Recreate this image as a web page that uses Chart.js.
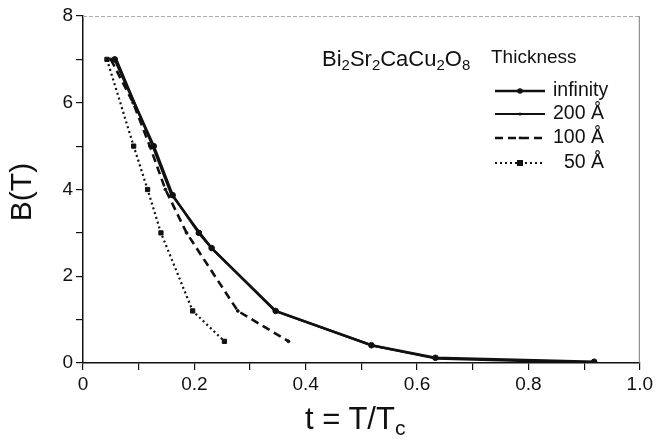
<!DOCTYPE html>
<html>
<head>
<meta charset="utf-8">
<script src="https://cdn.jsdelivr.net/npm/chart.js@4/dist/chart.umd.min.js"></script>
<style>
  html, body { margin: 0; padding: 0; background: #fff; }
  #wrap { position: relative; width: 656px; height: 440px; font-family: 'Liberation Sans', Arial, sans-serif; color: #111; }
  #chart { position: absolute; left: 0; top: 0; }
  .lbl { position: absolute; white-space: nowrap; line-height: 1; }
  .lbl sub { font-size: 0.68em; vertical-align: -0.3em; line-height: 0; }
  .row { position: absolute; left: 494px; height: 20px; }
  .row svg { position: absolute; left: 0; top: 5px; }
  .row span { position: absolute; top: -2px; font-size: 19.5px; line-height: 20px; white-space: nowrap; }
</style>
</head>
<body>
<div id="wrap">
  <canvas id="chart" width="656" height="440"></canvas>
  <div class="lbl" id="formula" style="left:322px; top:48px; font-size:22px;">Bi<sub>2</sub>Sr<sub>2</sub>CaCu<sub>2</sub>O<sub>8</sub></div>
  <div class="lbl" id="ytitle" style="left:-9px; top:177px; font-size:30px; width:60px; text-align:center; transform: rotate(-90deg);">B(T)</div>
  <div class="lbl" id="xtitle" style="left:305px; top:403px; font-size:31px;">t = T/T<sub>c</sub></div>
  <div class="lbl" style="left:491px; top:47px; font-size:19px;">Thickness</div>
  <div id="legend"></div>
</div>
<script>
// B(T) versus reduced temperature t = T/Tc, per film thickness
const infT = [0.057, 0.127, 0.161, 0.208, 0.231, 0.346, 0.518, 0.633, 0.918];
const infB = [7.0, 5.0, 3.87, 3.0, 2.65, 1.2, 0.41, 0.12, 0.03];
const t200T = [0.06, 0.125, 0.158, 0.21, 0.233, 0.345, 0.52, 0.635, 0.8, 0.92];
const t200B = [7.0, 5.0, 3.9, 3.0, 2.62, 1.2, 0.4, 0.1, 0.04, 0.01];
const t100T = [0.05, 0.09, 0.12, 0.148, 0.186, 0.278, 0.369];
const t100B = [7.0, 6.0, 5.0, 4.0, 3.0, 1.2, 0.5];
const t50T = [0.043, 0.091, 0.116, 0.14, 0.197, 0.254];
const t50B = [7.0, 5.0, 4.0, 3.0, 1.2, 0.5];

const seriesNames = ['infinity', '200 Å', '100 Å', '50 Å'];
const xTicks = [0, 0.2, 0.4, 0.6, 0.8, 1.0];
const yTicks = [0, 2, 4, 6, 8];

const ink = '#111';

function pts(xs, ys) {
  return xs.map((x, i) => ({ x: x, y: ys[i] }));
}

// line styles for each series (used by chart and legend)
const styles = [
  { dash: [], width: 2.6, point: 'circle', radius: 2.8 },
  { dash: [], width: 2.2, point: 'crossRot', radius: 1.8 },
  { dash: [8, 5], width: 2.6, point: 'circle', radius: 1.4 },
  { dash: [2, 3], width: 2.2, point: 'rect', radius: 3 }
];

const seriesData = [pts(infT, infB), pts(t200T, t200B), pts(t100T, t100B), pts(t50T, t50B)];

const datasets = seriesData.map((d, i) => ({
  label: seriesNames[i],
  data: d,
  borderColor: ink,
  backgroundColor: ink,
  borderWidth: styles[i].width,
  borderDash: styles[i].dash,
  pointStyle: styles[i].point,
  pointRadius: styles[i].radius,
  pointBorderWidth: 1,
  tension: 0,
  fill: false
}));

// faint frame on top and right like the original plot
const framePlugin = {
  id: 'frame',
  afterDraw(chart) {
    const { ctx, chartArea: a } = chart;
    ctx.save();
    ctx.lineWidth = 1;
    ctx.strokeStyle = '#aaa';
    ctx.setLineDash([4, 2]);
    ctx.beginPath();
    ctx.moveTo(a.left, a.top + 0.5);
    ctx.lineTo(a.right, a.top + 0.5);
    ctx.stroke();
    ctx.setLineDash([]);
    ctx.strokeStyle = '#777';
    ctx.beginPath();
    ctx.moveTo(a.right - 0.5, a.top);
    ctx.lineTo(a.right - 0.5, a.bottom);
    ctx.stroke();
    ctx.restore();
  }
};

new Chart(document.getElementById('chart'), {
  type: 'line',
  data: { datasets },
  plugins: [framePlugin],
  options: {
    responsive: false,
    animation: false,
    layout: { padding: { left: 0, right: 15, top: 16, bottom: 0 } },
    plugins: { legend: { display: false }, tooltip: { enabled: false } },
    scales: {
      x: {
        type: 'linear',
        min: 0,
        max: 1,
        afterFit: s => { s.height = 77; },
        afterBuildTicks: s => {
          s.ticks = [];
          for (let i = 0; i <= 10; i++) s.ticks.push({ value: i / 10 });
        },
        ticks: {
          color: ink,
          font: { family: "'Liberation Sans', Arial", size: 19 },
          padding: 3,
          maxRotation: 0,
          autoSkip: false,
          callback: v => {
            const m = xTicks.find(t => Math.abs(t - v) < 1e-6);
            if (m === undefined) return '';
            return m === 0 ? '0' : m.toFixed(1);
          }
        },
        grid: { drawOnChartArea: false, drawTicks: true, tickLength: 7, color: ink, lineWidth: 1.2 },
        border: { color: ink, width: 1.5 }
      },
      y: {
        min: 0,
        max: 8,
        afterFit: s => { s.width = 83; },
        ticks: {
          stepSize: 1,
          color: ink,
          font: { family: "'Liberation Sans', Arial", size: 19 },
          padding: 3,
          autoSkip: false,
          callback: v => yTicks.includes(v) ? String(v) : ''
        },
        grid: { drawOnChartArea: false, drawTicks: true, tickLength: 7, color: ink, lineWidth: 1.2 },
        border: { color: ink, width: 1.5 }
      }
    }
  }
});

// --- Legend (html rows with svg line samples) ---
const legendRows = [
  { top: 81, textLeft: 59 },
  { top: 104, textLeft: 59 },
  { top: 128, textLeft: 59 },
  { top: 153, textLeft: 70 }
];
const legendEl = document.getElementById('legend');
seriesNames.forEach((name, i) => {
  const st = styles[i];
  const row = document.createElement('div');
  row.className = 'row';
  row.style.top = legendRows[i].top + 'px';
  let marker = '';
  if (st.point === 'circle') marker = `<circle cx="26" cy="5" r="${st.radius}" fill="${ink}"/>`;
  else if (st.point === 'rect') marker = `<rect x="23" y="2" width="6" height="6" fill="${ink}"/>`;
  else marker = `<circle cx="26" cy="5" r="1.6" fill="${ink}"/>`;
  row.innerHTML = `
    <svg width="52" height="10">
      <line x1="1" y1="5" x2="51" y2="5" stroke="${ink}" stroke-width="${st.width}" stroke-dasharray="${st.dash.join(' ')}"/>
      ${marker}
    </svg>
    <span style="left:${legendRows[i].textLeft}px">${name}</span>
  `;
  legendEl.appendChild(row);
});
</script>
</body>
</html>
